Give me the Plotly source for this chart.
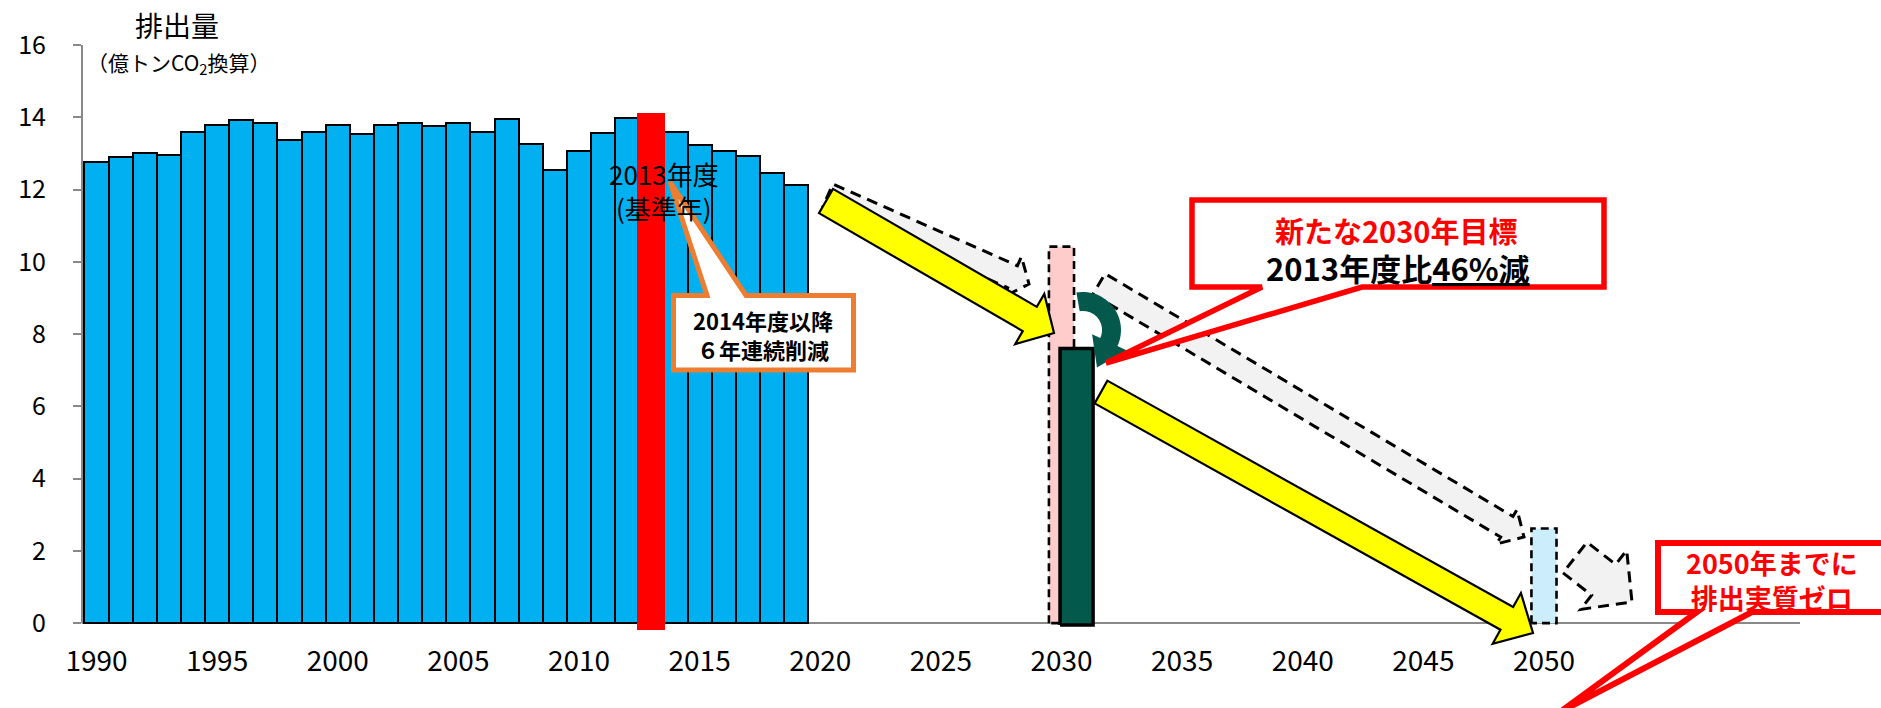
import math
import plotly.graph_objects as go

# ---------------- data ----------------
years = list(range(1990, 2020))
emissions = [12.76, 12.90, 13.02, 12.95, 13.59, 13.80, 13.92, 13.85, 13.36, 13.59,
             13.80, 13.53, 13.78, 13.83, 13.76, 13.83, 13.60, 13.96, 13.25, 12.54,
             13.06, 13.57, 13.98, 14.08, 13.60, 13.23, 13.06, 12.93, 12.47, 12.13]
base_year = [2013]
base_year_mark = [14.13]
target_year = [2030]
previous_target = [10.42]
new_target = [7.60]
goal_year = [2050]
goal_value = [2.62]
x_tick_years = list(range(1990, 2051, 5))
y_tick_values = list(range(0, 17, 2))

# ---------------- layout geometry ----------------
W, H = 1881, 708
ML, MR, MT, MB = 82, 81, 45, 74
PW, PH = W - ML - MR, H - MT - MB
X0 = 1989.4
PX_PER_YEAR = 24.125
x_range = [X0, X0 + PW / PX_PER_YEAR]
y_range = [-0.3, 16]
FONT = "Noto Sans CJK JP"


def pp(x, y):
    """pixel -> paper coordinates (for decorations only)"""
    return (x - ML) / PW, (H - MB - y) / PH


def to_path(pts, close=True):
    s = ""
    for i, (x, y) in enumerate(pts):
        X, Y = pp(x, y)
        s += ("M" if i == 0 else "L") + f"{X:.5f},{Y:.5f}"
    return s + ("Z" if close else "")


def block_arrow(tail, tip, sw, hw, hl):
    dx, dy = tip[0] - tail[0], tip[1] - tail[1]
    L = math.hypot(dx, dy)
    ux, uy = dx / L, dy / L
    nx, ny = -uy, ux
    bx, by = tip[0] - hl * ux, tip[1] - hl * uy
    return [(tail[0] + nx * sw / 2, tail[1] + ny * sw / 2),
            (bx + nx * sw / 2, by + ny * sw / 2),
            (bx + nx * hw / 2, by + ny * hw / 2),
            tip,
            (bx - nx * hw / 2, by - ny * hw / 2),
            (bx - nx * sw / 2, by - ny * sw / 2),
            (tail[0] - nx * sw / 2, tail[1] - ny * sw / 2)]


def curved_arrow(c, ro, ri, t0, t1, head_out, head_in, head_len):
    n = 30
    angs = [math.radians(t0 + (t1 - t0) * i / n) for i in range(n + 1)]
    outer = [(c[0] + ro * math.cos(a), c[1] + ro * math.sin(a)) for a in angs]
    inner = [(c[0] + ri * math.cos(a), c[1] + ri * math.sin(a)) for a in reversed(angs)]
    a1 = angs[-1]
    rm = (ro + ri) / 2
    mid = (c[0] + rm * math.cos(a1), c[1] + rm * math.sin(a1))
    tx, ty = -math.sin(a1), math.cos(a1)
    tip = (mid[0] + head_len * tx, mid[1] + head_len * ty)
    bo = (c[0] + head_out * math.cos(a1), c[1] + head_out * math.sin(a1))
    bi = (c[0] + head_in * math.cos(a1), c[1] + head_in * math.sin(a1))
    return outer + [bo, tip, bi] + inner


def rect_xy(x0, x1, y0, y1):
    return [x0, x0, x1, x1, x0], [y0, y1, y1, y0, y0]


fig = go.Figure()

# historical emissions
fig.add_trace(go.Bar(x=years, y=emissions, width=1.0,
                     marker=dict(color="#00B0F0", line=dict(color="black", width=2)),
                     hoverinfo="skip", showlegend=False))
# base year highlight
RED_BASE = -0.2
fig.add_trace(go.Bar(x=base_year, y=[v - RED_BASE for v in base_year_mark], base=RED_BASE,
                     width=1.16, marker=dict(color="#FF0000", line=dict(width=0)),
                     hoverinfo="skip", showlegend=False))
# previous 2030 target (dashed pink)
xs, ys = rect_xy(target_year[0] - 0.52, target_year[0] + 0.52, 0, previous_target[0])
fig.add_trace(go.Scatter(x=xs, y=ys, mode="lines", fill="toself", fillcolor="#FFCCCC",
                         line=dict(color="black", width=2.6, dash="8px,5px"),
                         hoverinfo="skip", showlegend=False))
# new 2030 target (dark green)
xs, ys = rect_xy(target_year[0] - 0.06, target_year[0] + 1.31, -0.05, new_target[0])
fig.add_trace(go.Scatter(x=xs, y=ys, mode="lines", fill="toself", fillcolor="#03594C",
                         line=dict(color="black", width=3.5),
                         hoverinfo="skip", showlegend=False))
# 2050 (dashed light blue)
xs, ys = rect_xy(goal_year[0] - 0.52, goal_year[0] + 0.52, 0, goal_value[0])
fig.add_trace(go.Scatter(x=xs, y=ys, mode="lines", fill="toself", fillcolor="#CCEEFC",
                         line=dict(color="black", width=2.6, dash="8px,5px"),
                         hoverinfo="skip", showlegend=False))

shapes = []
# y-axis line
shapes.append(dict(type="line", xref="paper", yref="y", x0=0, x1=0, y0=0, y1=16,
                   line=dict(color="#898989", width=2), layer="below"))

DASH = dict(color="black", width=3, dash="11px,7px")
GRAY = "#F2F2F2"
# gray dashed arrows
shapes.append(dict(type="path", xref="paper", yref="paper", fillcolor=GRAY, line=DASH,
                   path=to_path(block_arrow((828, 195), (1029, 284), 24, 44, 18))))
shapes.append(dict(type="path", xref="paper", yref="paper", fillcolor=GRAY, line=DASH,
                   path=to_path(block_arrow((1099, 284), (1524, 537), 24, 40, 20))))
shapes.append(dict(type="path", xref="paper", yref="paper", fillcolor=GRAY, line=DASH,
                   path=to_path(block_arrow((1575, 557.5), (1632, 602), 39, 75, 36))))
# yellow arrows
YL = dict(color="black", width=2.2)
shapes.append(dict(type="path", xref="paper", yref="paper", fillcolor="#FFFF00", line=YL,
                   path=to_path(block_arrow((826, 201), (1054, 333), 28, 58, 28))))
shapes.append(dict(type="path", xref="paper", yref="paper", fillcolor="#FFFF00", line=YL,
                   path=to_path(block_arrow((1101, 392), (1533, 633), 26, 58, 30))))
# green curved arrow
shapes.append(dict(type="path", xref="paper", yref="paper", fillcolor="#04594C",
                   line=dict(width=0),
                   path=to_path(curved_arrow((1083, 330), 38, 19, -100, 25, 48, 10, 28))))
# callout 1 (orange)
c1 = [(673.5, 295.5), (707, 295.5), (670, 182), (746, 295.5), (853.5, 295.5),
      (853.5, 370), (673.5, 370)]
shapes.append(dict(type="path", xref="paper", yref="paper", fillcolor="white",
                   line=dict(color="#ED7D31", width=5), path=to_path(c1)))
# callout 2 (red)
c2 = [(1192, 200), (1604, 200), (1604, 287), (1362, 287), (1106, 363), (1262, 287),
      (1192, 287)]
shapes.append(dict(type="path", xref="paper", yref="paper", fillcolor="white",
                   line=dict(color="#FF0000", width=5.5), path=to_path(c2)))
# callout 3 (red)
c3 = [(1658, 543), (1910, 543), (1910, 612), (1752, 612), (1560, 712), (1697, 612),
      (1658, 612)]
shapes.append(dict(type="path", xref="paper", yref="paper", fillcolor="white",
                   line=dict(color="#FF0000", width=6), path=to_path(c3)))

annotations = []


def ann(x, y, text, size, color="black", **kw):
    X, Y = pp(x, y)
    annotations.append(dict(x=X, y=Y, xref="paper", yref="paper", text=text, showarrow=False,
                            xanchor="center", yanchor="middle",
                            font=dict(family=FONT, size=size, color=color), **kw))


ann(177, 25, "排出量", 28)
ann(178, 63, "（億トンCO<sub>2</sub>換算）", 21)
ann(664, 190, "2013年度<br>(基準年)", 26)
ann(763, 334, "<b>2014年度以降<br>６年連続削減</b>", 22)
ann(1396, 230, "<b>新たな2030年目標</b>", 29, "#FF0000")
ann(1398, 267, "<b>2013年度比<u>46%減</u></b>", 31)
ann(1772, 580, "<b>2050年までに<br>排出実質ゼロ</b>", 27, "#FF0000")

fig.update_layout(
    width=W, height=H,
    margin=dict(l=ML, r=MR, t=MT, b=MB, pad=0),
    paper_bgcolor="white", plot_bgcolor="white",
    barmode="overlay", bargap=0,
    showlegend=False,
    font=dict(family=FONT, color="black"),
    shapes=shapes,
    annotations=annotations,
    xaxis=dict(range=x_range, tickmode="array", tickvals=x_tick_years,
               ticktext=[str(v) for v in x_tick_years], ticks="", showline=False,
               showgrid=False, zeroline=False, tickfont=dict(size=28, color="black"),
               ticklabelstandoff=8),
    yaxis=dict(range=y_range, tickmode="array", tickvals=y_tick_values,
               ticks="outside", ticklen=8, tickwidth=2, tickcolor="#898989",
               showline=False, showgrid=False, zeroline=True, zerolinecolor="#898989",
               zerolinewidth=2, tickfont=dict(size=25, color="black"),
               ticklabelstandoff=22),
)

fig.write_html("out.html")
